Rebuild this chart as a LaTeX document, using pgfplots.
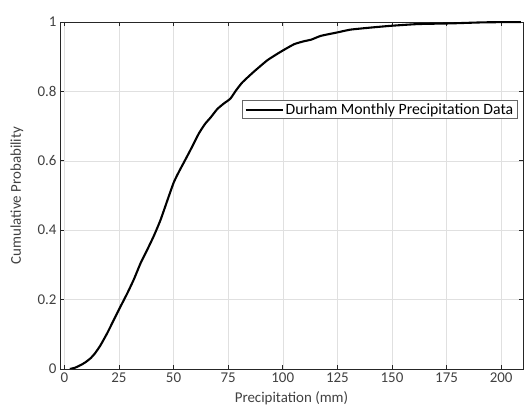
\documentclass[border=0pt]{standalone}
\usepackage{pgfplots}
\pgfplotsset{compat=1.18}
\usepackage{fontspec}
\setmainfont{Carlito}
\definecolor{axgray}{gray}{0.15}
\definecolor{txtgray}{gray}{0.25}
\begin{document}
\begin{tikzpicture}
\begin{axis}[
  scale only axis, width=463bp, height=347bp,
  xmin=-2, xmax=210, ymin=0, ymax=1,
  xtick={0,25,...,200}, ytick={0,0.2,...,1},
  yticklabels={0,0.2,0.4,0.6,0.8,1},
  /pgf/number format/assume math mode=true,
  tick label style={font=\fontsize{15}{17}\selectfont, text=txtgray},
  label style={font=\fontsize{15}{17}\selectfont, text=txtgray},
  xlabel={Precipitation (mm)}, ylabel={Cumulative Probability},
  xlabel style={at={(axis description cs:0.5,-0.084)}, anchor=center},
  ylabel style={at={(axis description cs:-0.093,0.5)}, anchor=center},
  axis line style={axgray, line width=0.6pt},
  tick style={axgray, line width=0.6pt}, major tick length=4bp,
  tick align=inside,
  grid=major, grid style={black!12, line width=0.5pt},
  legend style={font=\fontsize{15.8}{18}\selectfont, at={(0.988,0.775)}, anchor=north east,
    draw=black!60, line width=0.6pt, inner xsep=2bp, inner ysep=1bp},
  legend image code/.code={\draw[#1] (0bp,0bp) -- (37bp,0bp);},
  legend cell align=left,
]
\addplot[black, line width=2.1pt, smooth, tension=0.3] coordinates {
(2.5,0) (5,0.004) (8,0.013) (10,0.021) (12,0.031) (14,0.045) (16.5,0.068) (19.6,0.103)
(22.6,0.141) (25.7,0.180) (28.8,0.218) (31.8,0.258) (34.9,0.305) (37.9,0.343)
(41,0.384) (44,0.429) (47.5,0.492) (50.1,0.538) (52.5,0.569) (54.7,0.595) (57.8,0.632)
(61.6,0.679) (64.5,0.707) (67,0.725) (70,0.749) (73,0.765) (76,0.779) (78.5,0.802)
(81.5,0.826) (86.8,0.857) (93,0.89) (99,0.914) (105.2,0.936) (110,0.945) (113,0.949)
(117.4,0.96) (125,0.970) (131,0.978) (140.4,0.984) (149.5,0.989) (161.8,0.994)
(177,0.996) (192,0.999) (209,1.0)};
\addlegendentry{Durham Monthly Precipitation Data}
\end{axis}
\path ([xshift=-60bp,yshift=-43bp]current axis.south west) rectangle ([xshift=2bp,yshift=22bp]current axis.north east);
\end{tikzpicture}
\end{document}
